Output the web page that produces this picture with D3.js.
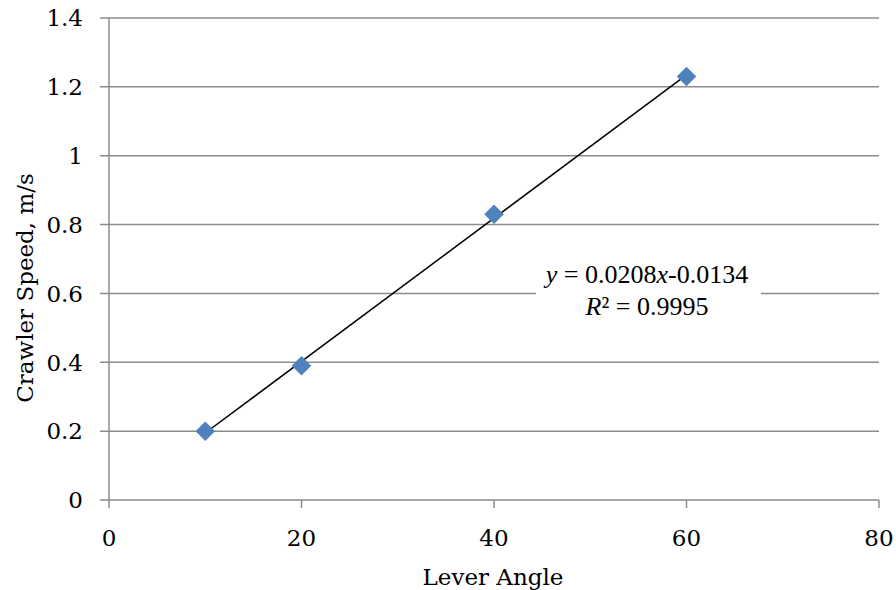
<!DOCTYPE html>
<html>
<head>
<meta charset="utf-8">
<script src="https://cdn.jsdelivr.net/npm/d3@7"></script>
<style>
  body { margin: 0; background: #fff; }
  svg text { font-family: "DejaVu Serif", serif; fill: #000; }
</style>
</head>
<body>
<svg id="chart" width="896" height="590"></svg>
<script>
// data
const leverAngle = [10, 20, 40, 60];
const crawlerSpeed = [0.20, 0.39, 0.83, 1.23];
const xTicks = [0, 20, 40, 60, 80];
const yTicks = [0, 0.2, 0.4, 0.6, 0.8, 1, 1.2, 1.4];
const slope = 0.0208, intercept = -0.0134;

const svg = d3.select('#chart');
const margin = { left: 109, right: 17, top: 18, bottom: 90 };
const W = 896, H = 590;

const x = d3.scaleLinear().domain([0, 80]).range([margin.left, W - margin.right]);
const y = d3.scaleLinear().domain([0, 1.4]).range([H - margin.bottom, margin.top]);

// horizontal gridlines
svg.append('g')
  .selectAll('line')
  .data(yTicks)
  .join('line')
  .attr('x1', margin.left - 9)
  .attr('x2', x(80))
  .attr('y1', d => y(d))
  .attr('y2', d => y(d))
  .attr('stroke', '#8c8c8c')
  .attr('stroke-width', 1.5);

// y axis line
svg.append('line')
  .attr('x1', x(0)).attr('x2', x(0))
  .attr('y1', y(1.4)).attr('y2', y(0) + 8)
  .attr('stroke', '#8c8c8c').attr('stroke-width', 1.5);

// x tick marks
svg.append('g')
  .selectAll('line')
  .data(xTicks.slice(1))
  .join('line')
  .attr('x1', d => x(d)).attr('x2', d => x(d))
  .attr('y1', y(0)).attr('y2', y(0) + 8)
  .attr('stroke', '#8c8c8c').attr('stroke-width', 1.5);

// y tick labels
svg.append('g')
  .selectAll('text')
  .data(yTicks)
  .join('text')
  .attr('x', 83)
  .attr('y', d => y(d))
  .attr('dy', '0.36em')
  .attr('text-anchor', 'end')
  .style('font-size', '23px')
  .text(d => d3.format('~g')(d));

// x tick labels
svg.append('g')
  .selectAll('text')
  .data(xTicks)
  .join('text')
  .attr('x', d => x(d))
  .attr('y', 546)
  .attr('text-anchor', 'middle')
  .style('font-size', '23px')
  .text(d => d);

// axis titles
svg.append('text')
  .attr('x', x(40) - 1)
  .attr('y', 585)
  .attr('text-anchor', 'middle')
  .style('font-size', '23px')
  .text('Lever Angle');

svg.append('text')
  .attr('transform', 'translate(33,288) rotate(-90)')
  .attr('text-anchor', 'middle')
  .style('font-size', '23px')
  .text('Crawler Speed, m/s');

// linear trendline
const trend = d3.extent(leverAngle).map(v => [v, slope * v + intercept]);
svg.append('path')
  .datum(trend)
  .attr('d', d3.line().x(d => x(d[0])).y(d => y(d[1])))
  .attr('stroke', '#000')
  .attr('stroke-width', 1.5)
  .attr('fill', 'none');

// diamond markers
const diamond = d3.symbol().type(d3.symbolSquare).size(190);
svg.append('g')
  .selectAll('path')
  .data(leverAngle.map((v, i) => [v, crawlerSpeed[i]]))
  .join('path')
  .attr('d', diamond)
  .attr('transform', d => `translate(${x(d[0])},${y(d[1])}) rotate(45)`)
  .attr('fill', '#4f81bd');

// equation label with white box
svg.append('rect')
  .attr('x', 536).attr('y', 262)
  .attr('width', 225).attr('height', 62)
  .attr('fill', '#fff');
const eqText = svg.append('text')
  .attr('text-anchor', 'middle')
  .style('font-family', '"Liberation Serif", serif')
  .style('font-size', '26px');
const l1 = eqText.append('tspan').attr('x', 647).attr('y', 283);
l1.append('tspan').style('font-style', 'italic').text('y');
l1.append('tspan').text(' = 0.0208');
l1.append('tspan').style('font-style', 'italic').text('x');
l1.append('tspan').text('-0.0134');
const l2 = eqText.append('tspan').attr('x', 647).attr('y', 315);
l2.append('tspan').style('font-style', 'italic').text('R');
l2.append('tspan').text('² = 0.9995');
</script>
</body>
</html>
